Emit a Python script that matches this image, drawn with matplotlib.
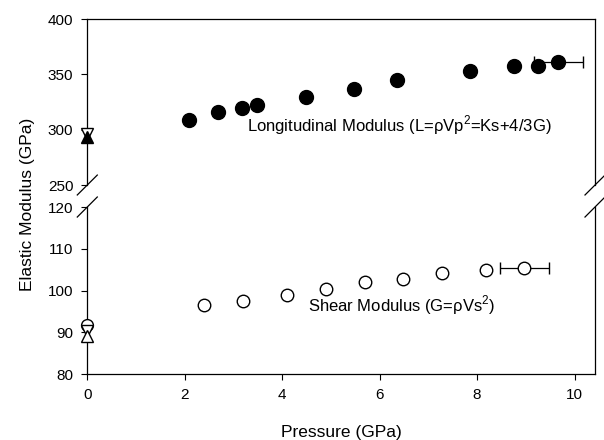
import matplotlib.pyplot as plt

plt.rcParams['font.family'] = ['Liberation Sans', 'DejaVu Sans']
plt.rcParams['mathtext.fontset'] = 'custom'
plt.rcParams['mathtext.rm'] = 'Liberation Sans'

# longitudinal modulus (filled circles)
p_long = [2.09, 2.68, 3.17, 3.48, 4.48, 5.48, 6.35, 7.86, 8.75, 9.26, 9.67]
L_mod = [308.7, 315.7, 319.3, 322.3, 329.2, 336.4, 344.9, 353.0, 357.8, 357.8, 360.8]
L_xerr = [0, 0, 0, 0, 0, 0, 0, 0, 0, 0, 0.5]

# shear modulus (open circles)
p_shear = [2.40, 3.19, 4.09, 4.90, 5.69, 6.48, 7.28, 8.18, 8.97]
G_mod = [96.5, 97.6, 98.9, 100.3, 102.0, 102.7, 104.1, 104.9, 105.5]
G_xerr = [0, 0, 0, 0, 0, 0, 0, 0, 0.5]

# ambient pressure values
L0_down, L0_up = 295.8, 293.5
G0_circle, G0_down, G0_up = 91.7, 90.2, 89.0

fig = plt.figure(figsize=(6.04, 4.40), dpi=100)
ax1 = fig.add_axes([0.1445, 0.5795, 0.8406, 0.3773])
ax2 = fig.add_axes([0.1445, 0.15, 0.8406, 0.3795])

for ax in (ax1, ax2):
    ax.set_xlim(0, 10.42)
    ax.tick_params(direction='out', length=4, width=0.8, labelsize=11, pad=6,
                   top=False, right=False)
    for s in ax.spines.values():
        s.set_linewidth(0.9)

ax1.spines['bottom'].set_visible(False)
ax1.set_xticks([])
ax1.set_ylim(250, 400)
ax1.set_yticks([250, 300, 350, 400])

ax2.spines['top'].set_visible(False)
ax2.set_ylim(80, 120)
ax2.set_yticks([80, 90, 100, 110, 120])
ax2.set_xticks([0, 2, 4, 6, 8, 10])

# data
ax1.errorbar(p_long, L_mod, xerr=L_xerr, fmt='o', color='black', ms=10,
             ecolor='black', elinewidth=0.9, capsize=4, clip_on=False, zorder=3)
ax1.plot([0], [L0_down], 'v', ms=8, mfc='white', mec='black', mew=1, clip_on=False, zorder=4)
ax1.plot([0], [L0_up], '^', ms=8, mfc='black', mec='black', mew=1, clip_on=False, zorder=4)

ax2.errorbar(p_shear, G_mod, xerr=G_xerr, fmt='o', color='black', ms=9,
             mfc='white', mec='black', mew=1, ecolor='black', elinewidth=0.9,
             capsize=4, clip_on=False, zorder=3)
ax2.plot([0], [G0_circle], 'o', ms=8.5, mfc='white', mec='black', mew=1, clip_on=False, zorder=4)
ax2.plot([0], [G0_down], 'v', ms=8, mfc='white', mec='black', mew=1, clip_on=False, zorder=4)
ax2.plot([0], [G0_up], '^', ms=8, mfc='white', mec='black', mew=1, clip_on=False, zorder=4)

ax1.text(3.27, 304.2, 'Longitudinal Modulus (L=ρVp$^2$=Ks+4/3G)',
         fontsize=12, ha='left', va='center')
ax2.text(4.54, 96.5, 'Shear Modulus (G=ρVs$^2$)',
         fontsize=12, ha='left', va='center')

# axis break marks
dx, dy = 0.0197, 0.06
kw = dict(color='black', lw=0.9, clip_on=False)
for x0 in (0, 1):
    ax1.plot([x0 - dx, x0 + dx], [-dy, dy], transform=ax1.transAxes, **kw)
    ax2.plot([x0 - dx, x0 + dx], [1 - dy, 1 + dy], transform=ax2.transAxes, **kw)

fig.text(28 / 604, 1 - 204 / 440, 'Elastic Modulus (GPa)', rotation=90,
         fontsize=12.5, ha='center', va='center')
fig.text(341 / 604, 1 - 432 / 440, 'Pressure (GPa)', fontsize=12.5,
         ha='center', va='center')

fig.savefig('out.png', dpi=100)
